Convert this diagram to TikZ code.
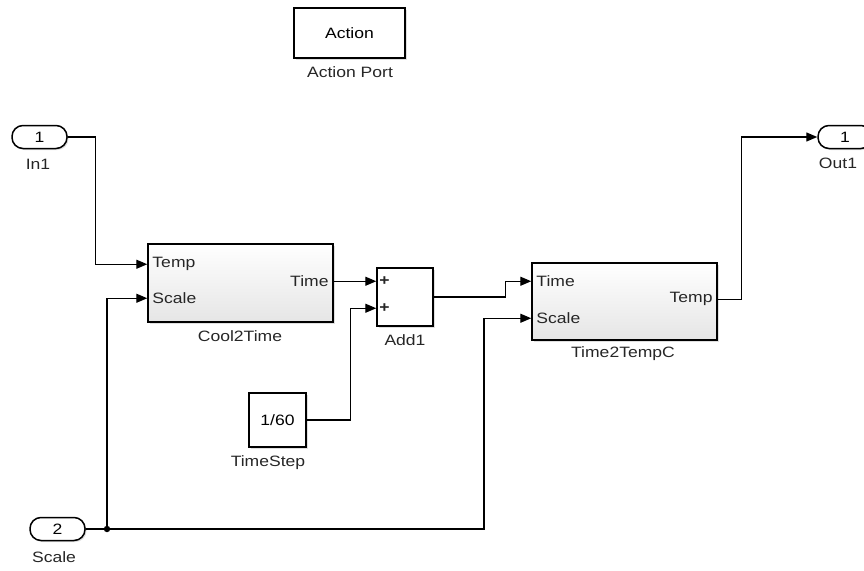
\documentclass[tikz,border=0pt]{standalone}
\usepackage{fontspec}
\setmainfont[FakeStretch=1.17]{Liberation Sans}
\usetikzlibrary{arrows.meta,shadows}
\begin{document}
\begin{tikzpicture}[x=1pt,y=-1pt,
  font=\fontsize{15}{17}\selectfont,
  wire/.style={line width=1.3pt, draw=black},
  arr/.style={wire, -{Triangle[length=11pt,width=9pt]}},
  shad/.style={drop shadow={shadow xshift=1.5pt,shadow yshift=-1.5pt,opacity=0.25}},
  blk/.style={draw=black, line width=1.5pt, top color=white, bottom color=gray!20, shad, inner sep=0pt},
  plainblk/.style={draw=black, line width=1.5pt, fill=white, shad, inner sep=0pt},
  port/.style={draw=black, line width=1.5pt, fill=white, rounded corners=11pt, minimum height=23pt, inner sep=0pt, shad},
  lbl/.style={inner sep=0pt, text=black!85}
]
\useasboundingbox (0,0) rectangle (864,570);

% blocks
\node[plainblk, minimum width=111pt, minimum height=50pt] (action) at (349.5,33) {Action};
\node[lbl] (actionL) at (350,72) {Action Port};

\node[port, minimum width=55pt] (in1) at (39.5,137) {1};
\node[lbl] (in1L) at (38,164) {In1};

\node[port, minimum width=54pt] (out1) at (845,137) {1};
\node[lbl] (out1L) at (838,163) {Out1};

\node[port, minimum width=55pt] (scale) at (57.5,529) {2};
\node[lbl] (scaleL) at (54,557) {Scale};

\node[blk, minimum width=185pt, minimum height=78pt] (c2t) at (240.5,283) {};
\node[lbl] (c2tL) at (240,336) {Cool2Time};

\node[plainblk, minimum width=56pt, minimum height=58pt] (add) at (405,297) {};
\node[lbl] (addL) at (405,340) {Add1};

\node[blk, minimum width=185pt, minimum height=77pt] (t2t) at (624.5,301.5) {};
\node[lbl] (t2tL) at (623,354) {Time2TempC};

\node[plainblk, minimum width=57pt, minimum height=54pt] (ts) at (277.5,420) {1/60};
\node[lbl] (tsL) at (268,463) {TimeStep};

% port coordinates
\path (c2t.north west) ++(0,21) coordinate (c2tT);
\path (c2t.north west) ++(0,55) coordinate (c2tS);
\path (c2t.north east) ++(0,38) coordinate (c2tO);
\path (add.north west) ++(0,14) coordinate (addA);
\path (add.north west) ++(0,41) coordinate (addB);
\path (t2t.north west) ++(0,19) coordinate (t2tT);
\path (t2t.north west) ++(0,56) coordinate (t2tS);
\path (t2t.north east) ++(0,37) coordinate (t2tO);
\coordinate (jn) at (107,529);

% port labels
\node[lbl, anchor=west] (c2tTl) at ([xshift=5pt]c2tT) {Temp};
\node[lbl, anchor=west] (c2tSl) at ([xshift=5pt]c2tS) {Scale};
\node[lbl, anchor=east] (c2tOl) at ([xshift=-5pt]c2tO) {Time};
\node[lbl, anchor=west, font=\fontsize{15}{17}\selectfont\bfseries] (addAl) at ([xshift=3pt]addA) {+};
\node[lbl, anchor=west, font=\fontsize{15}{17}\selectfont\bfseries] (addBl) at ([xshift=3pt]addB) {+};
\node[lbl, anchor=west] (t2tTl) at ([xshift=5pt]t2tT) {Time};
\node[lbl, anchor=west] (t2tSl) at ([xshift=5pt]t2tS) {Scale};
\node[lbl, anchor=east] (t2tOl) at ([xshift=-5pt]t2tO) {Temp};

% wires
\draw[arr] (in1.east) -- ++(28,0) |- (c2tT);
\draw[arr] (c2tO) -- (addA);
\draw[arr] (add.east) -- ++(72,0) |- (t2tT);
\draw[arr] (t2tO) -- ++(24,0) |- (out1.west);
\draw[wire] (scale.east) -- (jn);
\draw[arr] (jn) -- ++(377,0) |- (t2tS);
\draw[arr] (jn) |- (c2tS);
\draw[arr] (ts.east) -- ++(44,0) |- (addB);
\fill (jn) circle (3.2);
\end{tikzpicture}
\end{document}
